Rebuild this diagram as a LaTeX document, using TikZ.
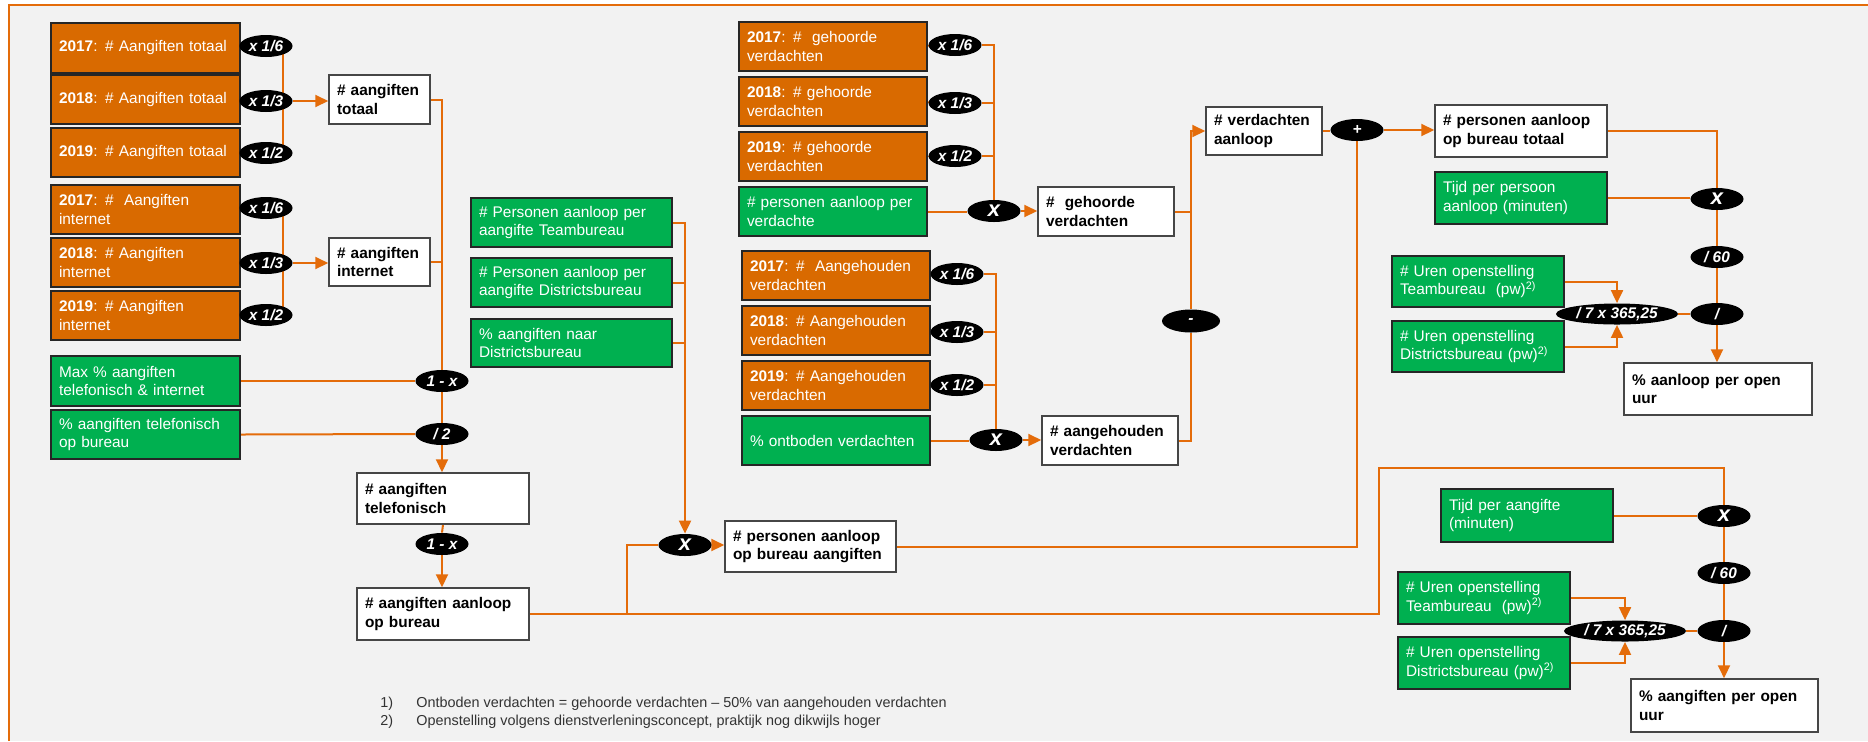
\documentclass[tikz,border=0pt]{standalone}
\usepackage{fontspec}
\setmainfont{Liberation Sans}
\usetikzlibrary{shapes.geometric,arrows.meta}
\definecolor{orfill}{RGB}{217,106,0}
\definecolor{grfill}{RGB}{0,176,80}
\definecolor{lncol}{RGB}{228,108,10}
\definecolor{bord}{RGB}{38,38,38}
\definecolor{wbord}{RGB}{70,70,70}
\definecolor{bgc}{RGB}{242,242,242}
\newcommand\boxfont{\fontsize{7.7}{9.3}\selectfont\hyphenpenalty=10000\exhyphenpenalty=10000}
\newcommand\bigopfont{\fontsize{11}{12}\selectfont}
\newcommand\fnfont{\fontsize{7.2}{9}\selectfont}
\pgfdeclarelayer{back}
\pgfdeclarelayer{lines}
\pgfsetlayers{back,lines,main}
\tikzset{
  base/.style={draw, line width=0.75pt, inner xsep=4pt, inner ysep=1pt, align=left, font=\boxfont},
  obox/.style={base, fill=orfill, draw=bord, text=white},
  gbox/.style={base, fill=grfill, draw=bord, text=white},
  wbox/.style={base, fill=white, draw=wbord, text=black, font=\boxfont\bfseries},
  op/.style={ellipse, fill=black, text=white, inner sep=0pt, minimum width=26.5pt, minimum height=11pt, font=\boxfont\bfseries\itshape},
  bigop/.style={op, font=\bigopfont\bfseries\itshape},
  ln/.style={draw=lncol, line width=1pt},
  ar/.style={ln, -{Triangle[length=6.5pt,width=6pt]}},
  fn/.style={font=\fnfont, text=black!80, inner sep=0pt},
}
% style, name, x1, y1, x2, y2, text
\newcommand\mkbox[7]{%
  \pgfmathsetmacro\mkbW{(#5-#3)*0.5}%
  \pgfmathsetmacro\mkbH{(#6-#4)*0.5}%
  \pgfmathsetmacro\mkbT{(#5-#3)*0.5-7}%
  \node[#1, minimum width=\mkbW pt, minimum height=\mkbH pt, text width=\mkbT pt] (#2) at ({(#3+#5)/2},{(#4+#6)/2}) {#7};%
}
\newcommand\mkop[5]{\node[#1] (#2) at (#3,#4) {#5};}
\begin{document}
\begin{tikzpicture}[x=0.5pt,y=-0.5pt]
\useasboundingbox (0,0) rectangle (1868,741);
\begin{pgfonlayer}{back}
  \fill[white] (0,0) rectangle (1868,741);
  \fill[bgc] (9,5) rectangle (1868,741);
  \draw[lncol, line width=0.7pt] (9,741) -- (9,5) -- (1868,5);
\end{pgfonlayer}

% ---- left column
\mkbox{obox}{o1}{52}{23}{239}{73}{\textbf{2017}: \# Aangiften totaal}
\mkbox{obox}{o2}{52}{75}{239}{124}{\textbf{2018}: \# Aangiften totaal}
\mkbox{obox}{o3}{52}{128}{239}{177}{\textbf{2019}: \# Aangiften totaal}
\mkbox{obox}{o4}{52}{185}{239}{234}{\textbf{2017}: \#\ \ Aangiften\\internet}
\mkbox{obox}{o5}{52}{238}{239}{287}{\textbf{2018}: \# Aangiften\\internet}
\mkbox{obox}{o6}{52}{291}{239}{340}{\textbf{2019}: \# Aangiften\\internet}
\mkbox{gbox}{maxb}{52}{356}{239}{406}{Max \% aangiften\\telefonisch \& internet}
\mkbox{gbox}{pct}{52}{410}{239}{459}{\% aangiften telefonisch\\op bureau}

\mkop{op}{e1}{266}{46}{x 1/6}
\mkop{op}{e2}{266}{101}{x 1/3}
\mkop{op}{e3}{266}{153}{x 1/2}
\mkop{op}{e4}{266}{208}{x 1/6}
\mkop{op}{e5}{266}{263}{x 1/3}
\mkop{op}{e6}{266}{315}{x 1/2}

\mkbox{wbox}{at}{330}{75}{429}{124}{\# aangiften\\totaal}
\mkbox{wbox}{ai}{330}{238}{429}{286}{\# aangiften\\internet}
\mkop{op}{om1}{442}{381}{1 - x}
\mkop{op}{d2}{442}{434}{/ 2}
\mkbox{wbox}{tel}{358}{473}{528}{524}{\# aangiften\\telefonisch}
\mkop{op}{om2}{442}{544}{1 - x}
\mkbox{wbox}{abur}{358}{588}{528}{640}{\# aangiften aanloop\\op bureau}

% ---- middle green
\mkbox{gbox}{pt}{472}{198}{671}{247}{\# Personen aanloop per\\aangifte Teambureau}
\mkbox{gbox}{pd}{472}{258}{671}{307}{\# Personen aanloop per\\aangifte Districtsbureau}
\mkbox{gbox}{pn}{472}{319}{671}{367}{\% aangiften naar\\Districtsbureau}
\mkop{bigop}{mulA}{685}{545}{x}
\mkbox{wbox}{pab}{726}{521}{895}{572}{\# personen aanloop\\op bureau aangiften}

% ---- gehoorde / aangehouden
\mkbox{obox}{g1}{740}{22}{926}{71}{\textbf{2017}: \#\ \ gehoorde\\verdachten}
\mkbox{obox}{g2}{740}{77}{926}{126}{\textbf{2018}: \# gehoorde\\verdachten}
\mkbox{obox}{g3}{740}{132}{926}{181}{\textbf{2019}: \# gehoorde\\verdachten}
\mkbox{gbox}{gp}{740}{187}{926}{236}{\# personen aanloop per\\verdachte}
\mkbox{obox}{h1}{743}{251}{929}{300}{\textbf{2017}: \#\ \ Aangehouden\\verdachten}
\mkbox{obox}{h2}{743}{306}{929}{355}{\textbf{2018}: \# Aangehouden\\verdachten}
\mkbox{obox}{h3}{743}{361}{929}{410}{\textbf{2019}: \# Aangehouden\\verdachten}
\mkbox{gbox}{ov}{743}{416}{929}{465}{\% ontboden verdachten}

\mkop{op}{ge1}{955}{45}{x 1/6}
\mkop{op}{ge2}{955}{103}{x 1/3}
\mkop{op}{ge3}{955}{156}{x 1/2}
\mkop{bigop}{mulG}{994}{211}{x}
\mkop{op}{he1}{957}{274}{x 1/6}
\mkop{op}{he2}{957}{332}{x 1/3}
\mkop{op}{he3}{957}{385}{x 1/2}
\mkop{bigop}{mulH}{996}{440}{x}

\mkbox{wbox}{gv}{1039}{187}{1173}{236}{\#\ \ gehoorde\\verdachten}
\mkbox{wbox}{av}{1043}{416}{1177}{465}{\# aangehouden\\verdachten}
\mkop{op, minimum width=29pt, minimum height=11.5pt}{minus}{1191}{321}{-}
\mkbox{wbox}{va}{1207}{107}{1321}{155}{\# verdachten\\aanloop}
\mkop{op}{plus}{1357}{130}{+}

% ---- right, top
\mkbox{wbox}{pbt}{1436}{105}{1606}{157}{\# personen aanloop\\op bureau totaal}
\mkbox{gbox}{tpa}{1436}{172}{1606}{224}{Tijd per persoon\\aanloop (minuten)}
\mkbox{gbox}{ut1}{1393}{256}{1563}{307}{\# Uren openstelling\\Teambureau\ \ (pw)\textsuperscript{2)}}
\mkbox{gbox}{ud1}{1393}{321}{1563}{372}{\# Uren openstelling\\Districtsbureau (pw)\textsuperscript{2)}}
\mkop{bigop}{mulB}{1717}{199}{x}
\mkop{op}{d60B}{1717}{257}{/ 60}
\mkop{op}{divB}{1717}{314}{/}
\mkop{op, minimum width=61pt, minimum height=10.5pt}{d7B}{1617}{314}{/ 7 x 365,25}
\mkbox{wbox}{ppo}{1625}{363}{1811}{415}{\% aanloop per open\\uur}

% ---- right, bottom
\mkbox{gbox}{tag}{1442}{489}{1612}{542}{Tijd per aangifte\\(minuten)}
\mkbox{gbox}{ut2}{1399}{572}{1569}{624}{\# Uren openstelling\\Teambureau\ \ (pw)\textsuperscript{2)}}
\mkbox{gbox}{ud2}{1399}{637}{1569}{689}{\# Uren openstelling\\Districtsbureau (pw)\textsuperscript{2)}}
\mkop{bigop}{mulC}{1724}{516}{x}
\mkop{op}{d60C}{1724}{573}{/ 60}
\mkop{op}{divC}{1724}{631}{/}
\mkop{op, minimum width=61pt, minimum height=10.5pt}{d7C}{1625}{631}{/ 7 x 365,25}
\mkbox{wbox}{ppa}{1632}{679}{1817}{732}{\% aangiften per open\\uur}

% ---- footnotes
\node[fn, anchor=base west] (f1n) at (380,707) {1)};
\node[fn, anchor=base west] (f1t) at (416,707) {Ontboden verdachten = gehoorde verdachten -- 50\% van aangehouden verdachten};
\node[fn, anchor=base west] (f2n) at (380,725) {2)};
\node[fn, anchor=base west] (f2t) at (416,725) {Openstelling volgens dienstverleningsconcept, praktijk nog dikwijls hoger};

% ---- connectors
\coordinate (busA) at (283,0);
\coordinate (j1) at (627,0);
\coordinate (j2) at (1379,468);
\begin{pgfonlayer}{lines}
  % left groups
  \foreach \b/\e in {o1/e1,o2/e2,o3/e3,o4/e4,o5/e5,o6/e6} \draw[ln] (\b.east) -- (\e.west);
  \draw[ln] (e1 -| busA) -- (e3 -| busA);
  \draw[ln] (e4 -| busA) -- (e6 -| busA);
  \draw[ar] (e2.east) -- (e2.east -| at.west);
  \draw[ar] (e5.east) -- (e5.east -| ai.west);
  % main left vertical
  \draw[ln] (at.east) -| (om1.north);
  \draw[ln] (ai.east) -- (ai.east -| om1);
  \draw[ln] (maxb.east) -- (om1.west);
  \draw[ln] (om1.south) -- (d2.north);
  \draw[ln] (pct.east) -- (d2.west);
  \draw[ar] (d2.south) -- (d2.south |- tel.north);
  \draw[ln] (tel.south) -- (om2.north);
  \draw[ar] (om2.south) -- (om2.south |- abur.north);
  % middle green to mulA
  \draw[ar] (pt.east) -| (mulA.north);
  \draw[ln] (pd.east) -- (pd.east -| mulA);
  \draw[ln] (pn.east) -- (pn.east -| mulA);
  \draw[ln] (abur.east) -| (j1 |- mulA) -- (mulA.west);
  \draw[ar] (mulA.east) -- (mulA.east -| pab.west);
  % gehoorde
  \foreach \b/\e in {g1/ge1,g2/ge2,g3/ge3,h1/he1,h2/he2,h3/he3} \draw[ln] (\b.east) -- (\e.west);
  \draw[ln] (ge1.east) -| (mulG.north);
  \draw[ln] (ge2.east) -- (ge2.east -| mulG);
  \draw[ln] (ge3.east) -- (ge3.east -| mulG);
  \draw[ln] (gp.east) -- (gp.east -| mulG.west);
  \draw[ar] (mulG.east) -- (mulG.east -| gv.west);
  % aangehouden
  \draw[ln] (he1.east) -| (mulH.north);
  \draw[ln] (he2.east) -- (he2.east -| mulH);
  \draw[ln] (he3.east) -- (he3.east -| mulH);
  \draw[ln] (ov.east) -- (ov.east -| mulH.west);
  \draw[ar] (mulH.east) -- (mulH.east -| av.west);
  % minus
  \draw[ln] (gv.east) -| (minus.north);
  \draw[ar] (gv.east) -| (minus.center |- va.west) -- (va.west);
  \draw[ln] (av.east) -| (minus.south);
  % plus
  \draw[ln] (va.east) -- (va.east -| plus.west);
  \draw[ln] (pab.east) -| (plus.south);
  \draw[ar] (plus.east) -- (plus.east -| pbt.west);
  % right top chain
  \draw[ln] (pbt.east) -| (mulB.north);
  \draw[ln] (tpa.east) -- (tpa.east -| mulB.west);
  \draw[ln] (mulB.south) -- (d60B.north);
  \draw[ln] (d60B.south) -- (divB.north);
  \draw[ar] (divB.south) -- (divB.south |- ppo.north);
  \draw[ar] (ut1.east) -| (d7B.north);
  \draw[ar] (ud1.east) -| (d7B.south);
  \draw[ln] (d7B.east) -- (divB.west);
  % right bottom chain
  \draw[ln] (abur.east) -| (j2) -| (mulC.north);
  \draw[ln] (tag.east) -- (tag.east -| mulC.west);
  \draw[ln] (mulC.south) -- (d60C.north);
  \draw[ln] (d60C.south) -- (divC.north);
  \draw[ar] (divC.south) -- (divC.south |- ppa.north);
  \draw[ar] (ut2.east) -| (d7C.north);
  \draw[ar] (ud2.east) -| (d7C.south);
  \draw[ln] (d7C.east) -- (divC.west);
\end{pgfonlayer}
\end{tikzpicture}
\end{document}
